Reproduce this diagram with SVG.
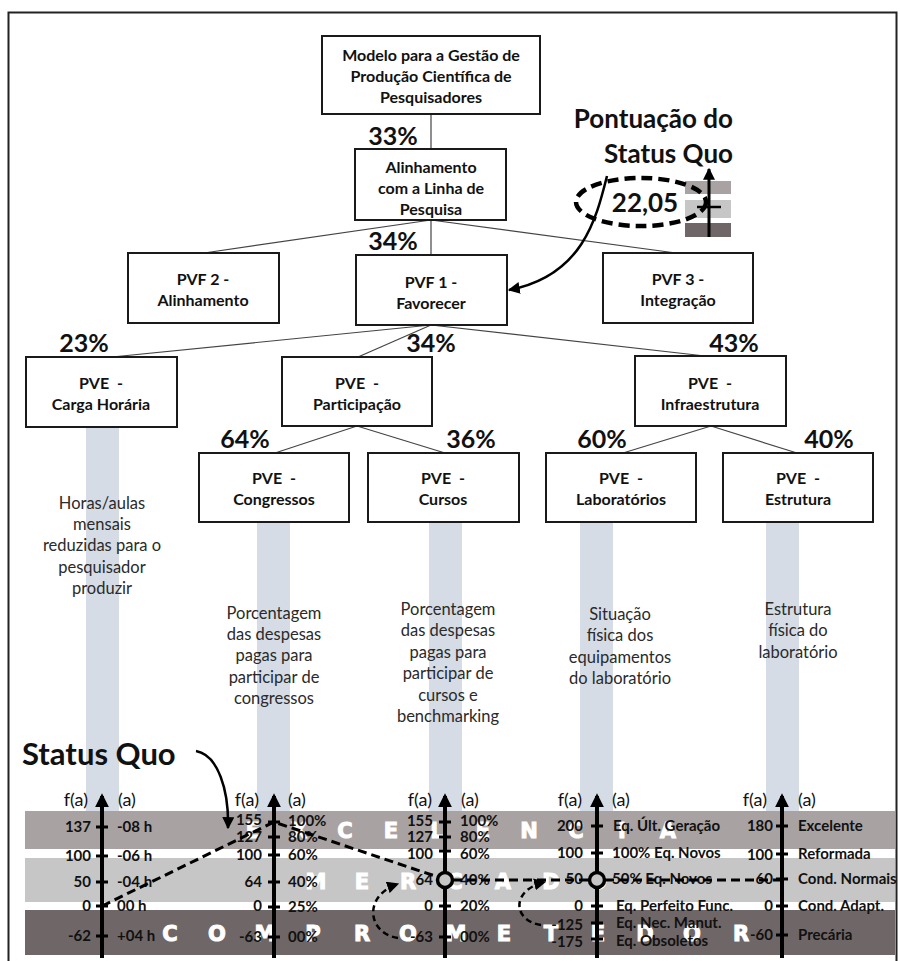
<svg xmlns="http://www.w3.org/2000/svg" width="900" height="961" viewBox="0 0 900 961">
  <style>
    .box { fill: #fff; stroke: #1a1a1a; stroke-width: 2; }
    .bt { font-family: Lato, "Open Sans", "Liberation Sans", sans-serif; font-size: 16px; font-weight: bold; fill: #111; text-anchor: middle; }
    .pct { font-family: Lato, "Open Sans", "Liberation Sans", sans-serif; font-size: 25px; font-weight: bold; fill: #111; text-anchor: middle; }
    .desc { font-family: Lato, "Open Sans", "Liberation Sans", sans-serif; font-size: 16.5px; fill: #2a2a2a; text-anchor: middle; }
    .link { stroke: #444; stroke-width: 1.2; fill: none; }
    .bar { fill: #d5dce6; }
    .b1 { fill: #a8a2a2; }
    .b2 { fill: #c6c6c6; }
    .b3 { fill: #6f6767; }
    .big { font-family: Lato, "Open Sans", "Liberation Sans", sans-serif; font-weight: bold; fill: #111; }
    .bl { font-family: "DejaVu Sans", "Liberation Sans", sans-serif; font-size: 21px; font-weight: bold; fill: #fff; stroke: #fff; stroke-width: 1; text-anchor: middle; }
    .axis { stroke: #000; stroke-width: 4; fill: none; }
    .tick { stroke: #000; stroke-width: 3; }
    .fa { font-family: Lato, "Open Sans", "Liberation Sans", sans-serif; font-size: 18px; fill: #111; }
    .lv { font-family: Lato, "Open Sans", "Liberation Sans", sans-serif; font-size: 15px; font-weight: bold; fill: #111; text-anchor: end; }
    .rv { font-family: Lato, "Open Sans", "Liberation Sans", sans-serif; font-size: 15px; font-weight: bold; fill: #111; }
    .sq { stroke: #000; stroke-width: 3; stroke-dasharray: 9 5; fill: none; }
    .sqc { stroke: #000; stroke-width: 2.5; stroke-dasharray: 6 4; fill: none; }
  </style>
  <defs>
    <marker id="ah" viewBox="0 0 10 10" refX="9" refY="5" markerUnits="userSpaceOnUse" markerWidth="12" markerHeight="12" orient="auto">
      <path d="M0,0 L10,5 L0,10 z" fill="#000"/>
    </marker>
    <marker id="axh" viewBox="0 0 10 10" refX="8" refY="5" markerUnits="userSpaceOnUse" markerWidth="14" markerHeight="14" orient="auto">
      <path d="M0,0 L10,5 L0,10 z" fill="#000"/>
    </marker>
  </defs>

  <!-- frame -->
  <rect x="8.5" y="12.5" width="888" height="980" fill="#fff" stroke="#222" stroke-width="2"/>

  <!-- scale bands with the white level words -->
  <g id="bands">
    <rect class="b1" x="25" y="811" width="870" height="38"/>
    <rect class="b2" x="25" y="858" width="870" height="44"/>
    <rect class="b3" x="25" y="910" width="870" height="45"/>
    <g class="bl">
      <text x="253" y="838">E</text><text x="299" y="838">X</text><text x="345" y="838">C</text><text x="391" y="838">E</text><text x="437" y="838">L</text><text x="483" y="838">E</text><text x="529" y="838">N</text><text x="576" y="838">C</text><text x="622" y="838">I</text><text x="668" y="838">A</text>
      <text x="316" y="889">M</text><text x="362" y="889">E</text><text x="408" y="889">R</text><text x="455" y="889">C</text><text x="503" y="889">A</text><text x="551" y="889">D</text><text x="598" y="889">O</text>
      <text x="170" y="941">C</text><text x="217" y="941">O</text><text x="265" y="941">M</text><text x="313" y="941">P</text><text x="362" y="941">R</text><text x="408" y="941">O</text><text x="456" y="941">M</text><text x="504" y="941">E</text><text x="551" y="941">T</text><text x="598" y="941">E</text><text x="645" y="941">D</text><text x="692" y="941">O</text><text x="741" y="941">R</text>
    </g>
  </g>

  <!-- descriptor bars -->
  <g id="bars">
    <rect class="bar" x="86" y="427" width="33" height="384"/>
    <rect class="bar" x="257" y="522" width="33" height="289"/>
    <rect class="bar" x="429" y="522" width="33" height="289"/>
    <rect class="bar" x="580" y="522" width="33" height="289"/>
    <rect class="bar" x="766" y="522" width="33" height="289"/>
  </g>

  <!-- connectors -->
  <g id="connectors">
    <line class="link" x1="431" y1="114" x2="431" y2="149"/>
    <line class="link" x1="431" y1="220" x2="204" y2="253"/>
    <line class="link" x1="431" y1="220" x2="431" y2="255"/>
    <line class="link" x1="431" y1="220" x2="676" y2="253"/>
    <line class="link" x1="431" y1="325" x2="112" y2="357"/>
    <line class="link" x1="431" y1="325" x2="358" y2="357"/>
    <line class="link" x1="431" y1="325" x2="705" y2="356"/>
    <line class="link" x1="357" y1="426" x2="275" y2="453"/>
    <line class="link" x1="357" y1="426" x2="445" y2="453"/>
    <line class="link" x1="711" y1="426" x2="623" y2="453"/>
    <line class="link" x1="711" y1="426" x2="797" y2="453"/>
  </g>

  <!-- weights -->
  <g id="weights" class="pct">
    <text x="393" y="145">33%</text>
    <text x="393" y="250">34%</text>
    <text x="84" y="352">23%</text>
    <text x="431" y="352">34%</text>
    <text x="734" y="352">43%</text>
    <text x="245" y="448">64%</text>
    <text x="471" y="448">36%</text>
    <text x="602" y="448">60%</text>
    <text x="829" y="448">40%</text>
  </g>

  <!-- tree nodes -->
  <g id="n-modelo">
    <rect class="box" x="322" y="36" width="218" height="78"/>
    <text class="bt" x="431" y="61">Modelo para a Gestão de</text>
    <text class="bt" x="431" y="82">Produção Científica de</text>
    <text class="bt" x="431" y="103">Pesquisadores</text>
  </g>
  <g id="n-alinhamento-linha">
    <rect class="box" x="355" y="149" width="151" height="71"/>
    <text class="bt" x="431" y="173">Alinhamento</text>
    <text class="bt" x="431" y="194">com a Linha de</text>
    <text class="bt" x="431" y="215">Pesquisa</text>
  </g>
  <g id="n-pvf2">
    <rect class="box" x="128" y="253" width="151" height="70"/>
    <text class="bt" x="203" y="285">PVF 2 -</text>
    <text class="bt" x="203" y="306">Alinhamento</text>
  </g>
  <g id="n-pvf1">
    <rect class="box" x="356" y="255" width="151" height="70"/>
    <text class="bt" x="431" y="288">PVF 1 -</text>
    <text class="bt" x="431" y="309">Favorecer</text>
  </g>
  <g id="n-pvf3">
    <rect class="box" x="603" y="253" width="150" height="70"/>
    <text class="bt" x="678" y="285">PVF 3 -</text>
    <text class="bt" x="678" y="306">Integração</text>
  </g>
  <g id="n-carga">
    <rect class="box" x="26" y="357" width="151" height="70"/>
    <text class="bt" x="101" y="389" xml:space="preserve">PVE  -</text>
    <text class="bt" x="101" y="410">Carga Horária</text>
  </g>
  <g id="n-participacao">
    <rect class="box" x="282" y="357" width="150" height="69"/>
    <text class="bt" x="357" y="389" xml:space="preserve">PVE  -</text>
    <text class="bt" x="357" y="410">Participação</text>
  </g>
  <g id="n-infra">
    <rect class="box" x="635" y="356" width="151" height="70"/>
    <text class="bt" x="710" y="389" xml:space="preserve">PVE  -</text>
    <text class="bt" x="710" y="410">Infraestrutura</text>
  </g>
  <g id="n-congressos">
    <rect class="box" x="199" y="453" width="150" height="69"/>
    <text class="bt" x="274" y="484" xml:space="preserve">PVE  -</text>
    <text class="bt" x="274" y="505">Congressos</text>
  </g>
  <g id="n-cursos">
    <rect class="box" x="368" y="453" width="151" height="69"/>
    <text class="bt" x="443" y="484" xml:space="preserve">PVE  -</text>
    <text class="bt" x="443" y="505">Cursos</text>
  </g>
  <g id="n-laboratorios">
    <rect class="box" x="546" y="453" width="150" height="69"/>
    <text class="bt" x="621" y="484" xml:space="preserve">PVE  -</text>
    <text class="bt" x="621" y="505">Laboratórios</text>
  </g>
  <g id="n-estrutura">
    <rect class="box" x="723" y="453" width="150" height="69"/>
    <text class="bt" x="798" y="484" xml:space="preserve">PVE  -</text>
    <text class="bt" x="798" y="505">Estrutura</text>
  </g>

  <!-- descriptor texts -->
  <g id="descriptors" class="desc">
    <text x="102" y="509">Horas/aulas</text>
    <text x="102" y="530">mensais</text>
    <text x="102" y="551">reduzidas para o</text>
    <text x="102" y="573">pesquisador</text>
    <text x="102" y="594">produzir</text>

    <text x="274" y="619">Porcentagem</text>
    <text x="274" y="640">das despesas</text>
    <text x="274" y="661">pagas para</text>
    <text x="274" y="683">participar de</text>
    <text x="274" y="704">congressos</text>

    <text x="448" y="615">Porcentagem</text>
    <text x="448" y="636">das despesas</text>
    <text x="448" y="658">pagas para</text>
    <text x="448" y="679">participar de</text>
    <text x="448" y="701">cursos e</text>
    <text x="448" y="722">benchmarking</text>

    <text x="620" y="620">Situação</text>
    <text x="620" y="641">física dos</text>
    <text x="620" y="663">equipamentos</text>
    <text x="620" y="684">do laboratório</text>

    <text x="798" y="615">Estrutura</text>
    <text x="798" y="636">física do</text>
    <text x="798" y="658">laboratório</text>
  </g>

  <!-- status quo score callout -->
  <g id="score">
    <text class="big" x="733" y="128" font-size="26" text-anchor="end">Pontuação do</text>
    <text class="big" x="733" y="163" font-size="26" text-anchor="end">Status Quo</text>
    <rect class="b1" x="685" y="181" width="46" height="13"/>
    <rect class="b2" x="685" y="200" width="46" height="18"/>
    <rect class="b3" x="685" y="223" width="46" height="14"/>
    <line x1="709" y1="237" x2="709" y2="169" stroke="#000" stroke-width="3" marker-end="url(#ah)"/>
    <line x1="697" y1="207" x2="721" y2="207" stroke="#000" stroke-width="2.5"/>
    <ellipse cx="641" cy="202" rx="65" ry="24" fill="none" stroke="#000" stroke-width="4.5" stroke-dasharray="11 6"/>
    <text class="big" x="645" y="212" font-size="26" text-anchor="middle">22,05</text>
    <path d="M607,176 C596,220 582,276 509,290" fill="none" stroke="#000" stroke-width="2.5" marker-end="url(#ah)"/>
  </g>

  <!-- status quo label -->
  <g id="status-quo">
    <text class="big" x="22" y="765" font-size="31">Status Quo</text>
    <path d="M196,751 C218,755 229,790 228,828" fill="none" stroke="#000" stroke-width="2.5" marker-end="url(#ah)"/>
  </g>

  <!-- descriptor scales -->
  <g id="scale-carga">
    <line class="axis" x1="102" y1="958" x2="102" y2="796" marker-end="url(#axh)"/>
    <text class="fa" x="88" y="806" text-anchor="end">f(a)</text>
    <text class="fa" x="118" y="806">(a)</text>
    <g class="tick"><line x1="96" y1="827" x2="108" y2="827"/><line x1="96" y1="856" x2="108" y2="856"/><line x1="96" y1="882" x2="108" y2="882"/><line x1="96" y1="906" x2="108" y2="906"/><line x1="96" y1="936" x2="108" y2="936"/></g>
    <text class="lv" x="91" y="832">137</text><text class="rv" x="117" y="832">-08 h</text>
    <text class="lv" x="91" y="861">100</text><text class="rv" x="117" y="861">-06 h</text>
    <text class="lv" x="91" y="887">50</text><text class="rv" x="117" y="887">-04 h</text>
    <text class="lv" x="91" y="911">0</text><text class="rv" x="117" y="911">00 h</text>
    <text class="lv" x="91" y="941">-62</text><text class="rv" x="117" y="941">+04 h</text>
  </g>
  <g id="scale-congressos">
    <line class="axis" x1="274" y1="958" x2="274" y2="796" marker-end="url(#axh)"/>
    <text class="fa" x="259" y="806" text-anchor="end">f(a)</text>
    <text class="fa" x="288" y="806">(a)</text>
    <g class="tick"><line x1="268" y1="822" x2="280" y2="822"/><line x1="268" y1="837" x2="280" y2="837"/><line x1="268" y1="855" x2="280" y2="855"/><line x1="268" y1="882" x2="280" y2="882"/><line x1="268" y1="907" x2="280" y2="907"/><line x1="268" y1="937" x2="280" y2="937"/></g>
    <text class="lv" x="262" y="825">155</text><text class="rv" x="288" y="826">100%</text>
    <text class="lv" x="262" y="842">127</text><text class="rv" x="288" y="842">80%</text>
    <text class="lv" x="262" y="860">100</text><text class="rv" x="288" y="860">60%</text>
    <text class="lv" x="262" y="887">64</text><text class="rv" x="288" y="887">40%</text>
    <text class="lv" x="262" y="911">0</text><text class="rv" x="288" y="912">25%</text>
    <text class="lv" x="262" y="942">-63</text><text class="rv" x="288" y="942">00%</text>
  </g>
  <g id="scale-cursos">
    <line class="axis" x1="445" y1="958" x2="445" y2="796" marker-end="url(#axh)"/>
    <text class="fa" x="432" y="806" text-anchor="end">f(a)</text>
    <text class="fa" x="461" y="806">(a)</text>
    <g class="tick"><line x1="439" y1="822" x2="451" y2="822"/><line x1="439" y1="837" x2="451" y2="837"/><line x1="439" y1="851" x2="451" y2="851"/><line x1="439" y1="906" x2="451" y2="906"/><line x1="439" y1="937" x2="451" y2="937"/></g>
    <text class="lv" x="433" y="826">155</text><text class="rv" x="460" y="826">100%</text>
    <text class="lv" x="433" y="842">127</text><text class="rv" x="460" y="842">80%</text>
    <text class="lv" x="433" y="859">100</text><text class="rv" x="460" y="859">60%</text>
    <text class="lv" x="433" y="885">64</text><text class="rv" x="460" y="885">40%</text>
    <text class="lv" x="433" y="911">0</text><text class="rv" x="460" y="911">20%</text>
    <text class="lv" x="433" y="942">-63</text><text class="rv" x="460" y="942">00%</text>
  </g>
  <g id="scale-laboratorios">
    <line class="axis" x1="597" y1="958" x2="597" y2="796" marker-end="url(#axh)"/>
    <text class="fa" x="582" y="806" text-anchor="end">f(a)</text>
    <text class="fa" x="612" y="806">(a)</text>
    <g class="tick"><line x1="591" y1="826" x2="603" y2="826"/><line x1="591" y1="853" x2="603" y2="853"/><line x1="591" y1="906" x2="603" y2="906"/><line x1="591" y1="923" x2="603" y2="923"/><line x1="591" y1="939" x2="603" y2="939"/></g>
    <text class="lv" x="583" y="831">200</text><text class="rv" x="613" y="831">Eq. Últ. Geração</text>
    <text class="lv" x="583" y="858">100</text><text class="rv" x="612" y="858">100% Eq. Novos</text>
    <text class="lv" x="583" y="884">50</text><text class="rv" x="612" y="884">50% Eq. Novos</text>
    <text class="lv" x="583" y="911">0</text><text class="rv" x="616" y="911">Eq. Perfeito Func.</text>
    <text class="lv" x="583" y="930">-125</text><text class="rv" x="616" y="928">Eq. Nec. Manut.</text>
    <text class="lv" x="583" y="947">-175</text><text class="rv" x="616" y="946">Eq. Obsoletos</text>
  </g>
  <g id="scale-estrutura">
    <line class="axis" x1="782" y1="958" x2="782" y2="796" marker-end="url(#axh)"/>
    <text class="fa" x="767" y="806" text-anchor="end">f(a)</text>
    <text class="fa" x="798" y="806">(a)</text>
    <g class="tick"><line x1="776" y1="826" x2="788" y2="826"/><line x1="776" y1="854" x2="788" y2="854"/><line x1="776" y1="879" x2="788" y2="879"/><line x1="776" y1="906" x2="788" y2="906"/><line x1="776" y1="935" x2="788" y2="935"/></g>
    <text class="lv" x="773" y="831">180</text><text class="rv" x="798" y="831">Excelente</text>
    <text class="lv" x="773" y="860">100</text><text class="rv" x="798" y="859">Reformada</text>
    <text class="lv" x="773" y="884">60</text><text class="rv" x="798" y="884">Cond. Normais</text>
    <text class="lv" x="773" y="911">0</text><text class="rv" x="798" y="911">Cond. Adapt.</text>
    <text class="lv" x="773" y="940">-60</text><text class="rv" x="798" y="940">Precária</text>
  </g>

  <!-- status quo profile across the scales -->
  <g id="profile">
    <path class="sq" d="M102,906 L274,822 L438,877"/>
    <path class="sq" d="M453,880 L589,880"/>
    <path class="sq" d="M605,880 L780,880"/>
    <path class="sqc" d="M398,938 C368,934 362,896 398,884" marker-end="url(#ah)"/>
    <path class="sqc" d="M541,925 C513,921 510,890 545,882" marker-end="url(#ah)"/>
    <circle cx="445" cy="880" r="7.5" fill="#c6c6c6" stroke="#000" stroke-width="3.5"/>
    <circle cx="597" cy="880" r="7.5" fill="#c6c6c6" stroke="#000" stroke-width="3.5"/>
  </g>
</svg>
